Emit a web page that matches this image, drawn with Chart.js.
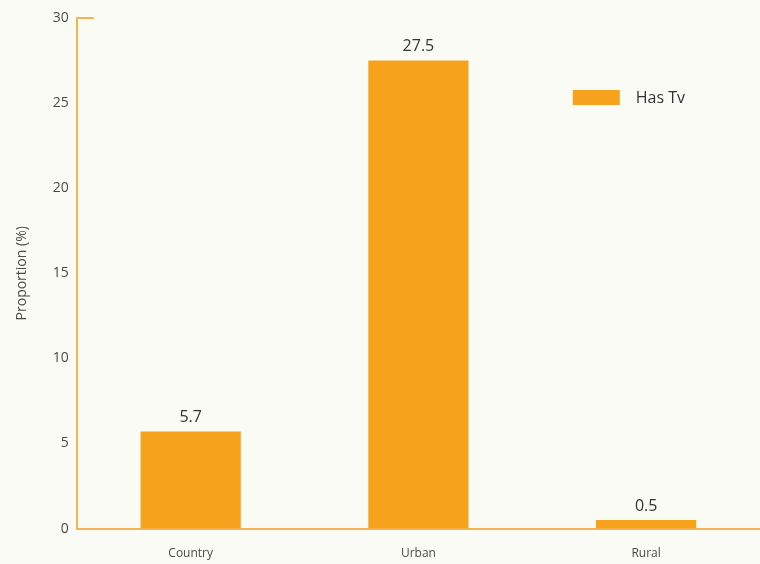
<!DOCTYPE html>
<html>
<head>
<meta charset="utf-8">
<script src="https://cdn.jsdelivr.net/npm/chart.js@4"></script>
<style>
  html, body { margin: 0; padding: 0; background: #fbfbf6; }
  #wrap { width: 760px; height: 564px; }
</style>
</head>
<body>
<div id="wrap"><canvas id="chart" width="760" height="564"></canvas></div>
<script>
const categories = ["Country", "Urban", "Rural"];
const hasTv = [5.7, 27.5, 0.5];
const yTicks = [0, 5, 10, 15, 20, 25, 30];

const barColor = "#f7a21c";
const axisColor = "#f3b453";
const textColor = "#4a4a4a";

// value labels above each bar
const valueLabels = {
  id: "valueLabels",
  afterDatasetsDraw(chart) {
    const { ctx } = chart;
    const meta = chart.getDatasetMeta(0);
    ctx.save();
    ctx.font = "16px 'Open Sans', sans-serif";
    ctx.fillStyle = "#333";
    ctx.textAlign = "center";
    ctx.textBaseline = "bottom";
    meta.data.forEach((bar, i) => {
      ctx.fillText(String(hasTv[i]), bar.x, bar.y - 6);
    });
    ctx.restore();
  },
};

// legend inside the plot (top right) + short cap at the top of the y axis
const insideLegend = {
  id: "insideLegend",
  afterDraw(chart) {
    const { ctx, chartArea, scales } = chart;
    const topY = scales.y.getPixelForValue(30);
    ctx.save();
    ctx.strokeStyle = axisColor;
    ctx.lineWidth = 2;
    ctx.beginPath();
    ctx.moveTo(chartArea.left, topY);
    ctx.lineTo(chartArea.left + 17, topY);
    ctx.stroke();

    const x = chartArea.left + 496;
    const y = chartArea.top + 72;
    ctx.fillStyle = barColor;
    ctx.fillRect(x, y, 47, 15);
    ctx.font = "16px 'Open Sans', sans-serif";
    ctx.fillStyle = "#333";
    ctx.textBaseline = "middle";
    ctx.fillText(chart.data.datasets[0].label, x + 63, y + 8);
    ctx.restore();
  },
};

new Chart(document.getElementById("chart"), {
  type: "bar",
  data: {
    labels: categories,
    datasets: [
      {
        label: "Has Tv",
        data: hasTv,
        backgroundColor: barColor,
        borderWidth: 0,
        categoryPercentage: 1,
        barPercentage: 0.44,
      },
    ],
  },
  options: {
    responsive: false,
    animation: false,
    layout: { padding: { top: 18, right: 0, bottom: -15, left: 14 } },
    plugins: {
      legend: { display: false },
      tooltip: { enabled: false },
    },
    scales: {
      x: {
        grid: { display: false, drawTicks: false },
        border: { color: axisColor, width: 2 },
        ticks: {
          color: textColor,
          font: { family: "'Open Sans', sans-serif", size: 12 },
          padding: 18,
        },
      },
      y: {
        min: 0,
        max: 30,
        afterBuildTicks: (axis) => {
          axis.ticks = yTicks.map((v) => ({ value: v }));
        },
        grid: { display: false, drawTicks: false },
        border: { color: axisColor, width: 2 },
        ticks: {
          color: textColor,
          font: { family: "'Open Sans', sans-serif", size: 14 },
          padding: 8,
        },
        title: {
          display: true,
          text: "Proportion (%)",
          color: textColor,
          font: { family: "'Open Sans', sans-serif", size: 14 },
          padding: { top: 0, bottom: 14 },
        },
      },
    },
  },
  plugins: [valueLabels, insideLegend],
});
</script>
</body>
</html>
